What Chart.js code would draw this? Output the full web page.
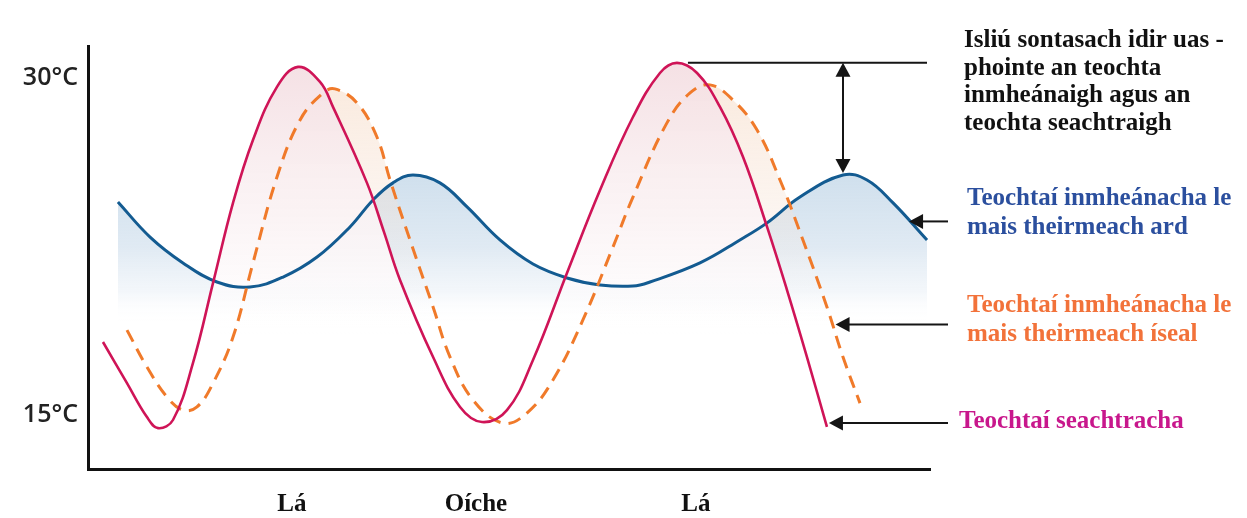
<!DOCTYPE html>
<html>
<head>
<meta charset="utf-8">
<script src="https://cdn.jsdelivr.net/npm/chart.js@4.4.0/dist/chart.umd.min.js"></script>
<style>
  html, body { margin: 0; padding: 0; background: #fff; }
  #wrap { position: relative; width: 1247px; height: 518px; }
</style>
</head>
<body>
<div id="wrap"><canvas id="tempChart"></canvas></div>
<script>
// Time of day in hours from the left end of the axis, temperature in °C

// Outside temperature (red)
const outsideHours = [0.96, 2.5, 3.78, 4.49, 5.45, 6.73, 8.02, 9.3, 10.58, 12.12, 13.47, 14.88, 15.71, 17.89, 18.98, 20.01, 22.13, 23.86, 25.27, 26.87, 28.54, 30.72, 32.84, 34.95, 36.68, 37.77, 39.06, 40.53, 42.01, 43.55, 44.83, 46.11, 47.39];
const outsideTemps = [18.25, 16.42, 14.91, 14.42, 14.78, 17.31, 20.88, 24.44, 27.24, 29.6, 30.49, 29.82, 28.71, 25.33, 23.15, 21.01, 17.58, 15.36, 14.69, 15.22, 17.45, 21.32, 25.01, 28.26, 30.22, 30.67, 30.22, 28.71, 26.48, 23.37, 20.56, 17.58, 14.47];

// Inside temperature, low thermal mass (orange, dashed)
const lowMassHours = [2.5, 3.78, 5.07, 6.09, 6.99, 8.02, 9.3, 10.58, 12.12, 13.6, 15.07, 15.84, 17.25, 18.53, 19.37, 20.65, 22.13, 23.22, 24.69, 26.61, 28.15, 29.82, 31.74, 33.67, 34.95, 37.13, 38.61, 39.89, 41.36, 42.9, 44.38, 45.85, 47.39, 48.42, 49.51];
const lowMassTemps = [18.78, 17.14, 15.8, 15.22, 15.36, 16.42, 18.47, 21.77, 25.59, 28.13, 29.33, 29.51, 28.89, 27.37, 25.46, 22.79, 19.81, 17.58, 15.67, 14.64, 15.09, 16.56, 19.23, 22.48, 24.7, 28.0, 29.33, 29.69, 29.02, 27.69, 25.46, 22.79, 19.81, 17.58, 15.53];

// Inside temperature, high thermal mass (blue)
const highMassHours = [1.92, 3.98, 6.09, 8.27, 10.39, 12.51, 14.69, 16.8, 18.28, 19.56, 20.84, 22.57, 24.31, 26.42, 28.54, 30.72, 32.84, 34.95, 36.04, 39.25, 41.81, 43.55, 45.66, 48.42, 49.96, 51.63, 53.81];
const highMassTemps = [24.48, 22.92, 21.77, 20.92, 20.7, 21.14, 22.03, 23.37, 24.57, 25.33, 25.68, 25.33, 24.26, 22.79, 21.72, 21.1, 20.79, 20.74, 20.92, 21.77, 22.79, 23.55, 24.7, 25.68, 25.46, 24.44, 22.79];

// Axis ticks
const yTickValues = [15, 30];
const xTickHours = [13.08, 24.88, 38.99];
const xTickLabels = ["Lá", "Oíche", "Lá"];

// Notes on the right
const gapNote = ["Isliú sontasach idir uas -", "phointe an teochta", "inmheánaigh agus an", "teochta seachtraigh"];
const highMassNote = ["Teochtaí inmheánacha le", "mais theirmeach ard"];
const lowMassNote = ["Teochtaí inmheánacha le", "mais theirmeach íseal"];
const outsideNote = ["Teochtaí seachtracha"];

const RED = "#cf1457";
const ORANGE = "#f07a2a";
const BLUE = "#135b91";
const SERIF = '"Liberation Serif", "Times New Roman", serif';

function toPoints(xs, ys) {
  return xs.map((x, i) => ({ x: x, y: ys[i] }));
}

// vertical gradient defined by temperatures
function makeGradient(stops) {
  return function (context) {
    const chart = context.chart;
    if (!chart.chartArea) return null;
    const yScale = chart.scales.y;
    const top = yScale.getPixelForValue(stops[0][0]);
    const bottom = yScale.getPixelForValue(stops[stops.length - 1][0]);
    const g = chart.ctx.createLinearGradient(0, top, 0, bottom);
    stops.forEach((s) => {
      g.addColorStop((yScale.getPixelForValue(s[0]) - top) / (bottom - top), s[1]);
    });
    return g;
  };
}

function arrowHead(ctx, tipX, tipY, dx, dy) {
  // dx, dy: unit direction the arrow points to
  const len = 14, half = 7.5;
  const bx = tipX - dx * len, by = tipY - dy * len;
  ctx.beginPath();
  ctx.moveTo(tipX, tipY);
  ctx.lineTo(bx - dy * half, by + dx * half);
  ctx.lineTo(bx + dy * half, by - dx * half);
  ctx.closePath();
  ctx.fill();
}

function pointerArrow(ctx, tailX, tipX, tipY) {
  ctx.beginPath();
  ctx.moveTo(tailX, tipY);
  ctx.lineTo(tipX + 12, tipY);
  ctx.stroke();
  arrowHead(ctx, tipX, tipY, -1, 0);
}

function drawLines(ctx, lines, x, y0, step, color) {
  ctx.fillStyle = color;
  lines.forEach((t, i) => ctx.fillText(t, x, y0 + i * step));
}

const notesPlugin = {
  id: "notes",
  afterDraw(chart) {
    const ctx = chart.ctx;
    const xs = chart.scales.x, ys = chart.scales.y;
    ctx.save();
    ctx.strokeStyle = "#151515";
    ctx.fillStyle = "#151515";
    ctx.lineWidth = 2;

    // level of the outside peak (second day)
    const peakTemp = Math.max(...outsideTemps);
    const peakIdx = outsideTemps.indexOf(peakTemp);
    const peakY = ys.getPixelForValue(peakTemp);
    const peakX = xs.getPixelForValue(outsideHours[peakIdx]);
    ctx.beginPath();
    ctx.moveTo(peakX + 11, peakY);
    ctx.lineTo(chart.chartArea.right - 3, peakY);
    ctx.stroke();

    // double arrow down to the high-mass peak
    let bi = highMassHours.length - 1;
    for (let i = highMassHours.length - 1; i >= 0; i--) {
      if (highMassHours[i] < 40) break;
      if (highMassTemps[i] > highMassTemps[bi]) bi = i;
    }
    const bx = xs.getPixelForValue(highMassHours[bi]);
    const by = ys.getPixelForValue(highMassTemps[bi]) - 2;
    ctx.beginPath();
    ctx.moveTo(bx, peakY + 12);
    ctx.lineTo(bx, by - 12);
    ctx.stroke();
    arrowHead(ctx, bx, peakY, 0, -1);
    arrowHead(ctx, bx, by, 0, 1);

    // pointers to the curve ends
    const tailX = 948;
    const hn = highMassHours.length;
    const hbX = (xs.getPixelForValue(highMassHours[hn - 2]) + xs.getPixelForValue(highMassHours[hn - 1])) / 2;
    const hbY = (ys.getPixelForValue(highMassTemps[hn - 2]) + ys.getPixelForValue(highMassTemps[hn - 1])) / 2;
    pointerArrow(ctx, tailX, hbX - 1, hbY);

    const ln = lowMassHours.length;
    const f = 0.35;
    const lx0 = xs.getPixelForValue(lowMassHours[ln - 3]), lx1 = xs.getPixelForValue(lowMassHours[ln - 2]);
    const ly0 = ys.getPixelForValue(lowMassTemps[ln - 3]), ly1 = ys.getPixelForValue(lowMassTemps[ln - 2]);
    pointerArrow(ctx, tailX, lx0 + (lx1 - lx0) * f + 3, ly0 + (ly1 - ly0) * f);

    const on = outsideHours.length;
    pointerArrow(ctx, tailX, xs.getPixelForValue(outsideHours[on - 1]) + 2, ys.getPixelForValue(outsideTemps[on - 1]) - 4);

    // text
    ctx.font = "bold 25px " + SERIF;
    ctx.textAlign = "left";
    ctx.textBaseline = "alphabetic";
    drawLines(ctx, gapNote, 964, 47, 27.5, "#111");
    drawLines(ctx, highMassNote, 967, 205, 29, "#2b4f9e");
    drawLines(ctx, lowMassNote, 967, 312, 29, "#f2723a");
    drawLines(ctx, outsideNote, 959, 428, 29, "#c8178c");
    ctx.restore();
  },
};

new Chart(document.getElementById("tempChart"), {
  type: "line",
  data: {
    datasets: [
      {
        label: "Teochtaí seachtracha",
        data: toPoints(outsideHours, outsideTemps),
        borderColor: RED,
        borderWidth: 2.6,
        pointRadius: 0,
        tension: 0.4,
        fill: { value: 12.6 },
        backgroundColor: makeGradient([
          [30.7, "rgba(244, 222, 226, 0.92)"],
          [26, "rgba(249, 238, 240, 0.92)"],
          [21, "rgba(253, 250, 251, 0.88)"],
          [18.6, "rgba(255, 255, 255, 0)"],
        ]),
      },
      {
        label: "Teochtaí inmheánacha le mais theirmeach íseal",
        data: toPoints(lowMassHours, lowMassTemps),
        borderColor: ORANGE,
        borderWidth: 3,
        borderDash: [13, 8],
        pointRadius: 0,
        tension: 0.4,
        fill: { value: 12.6 },
        backgroundColor: makeGradient([
          [29.7, "rgba(246, 218, 196, 0.55)"],
          [24, "rgba(246, 226, 212, 0.35)"],
          [19, "rgba(255, 255, 255, 0)"],
        ]),
      },
      {
        label: "Teochtaí inmheánacha le mais theirmeach ard",
        data: toPoints(highMassHours, highMassTemps),
        borderColor: BLUE,
        borderWidth: 3,
        pointRadius: 0,
        tension: 0.4,
        fill: { value: 12.6 },
        backgroundColor: makeGradient([
          [25.7, "rgba(205, 222, 236, 0.95)"],
          [22.5, "rgba(218, 230, 241, 0.85)"],
          [20.5, "rgba(235, 241, 247, 0.6)"],
          [19.1, "rgba(255, 255, 255, 0)"],
        ]),
      },
    ],
  },
  options: {
    responsive: true,
    maintainAspectRatio: false,
    animation: false,
    layout: { padding: { left: 0, top: 46, right: 317, bottom: 0 } },
    plugins: {
      legend: { display: false },
      tooltip: { enabled: false },
      filler: { drawTime: "beforeDatasetsDraw" },
    },
    scales: {
      x: {
        type: "linear",
        min: 0,
        max: 54,
        grid: { display: false, drawTicks: false },
        border: { display: true, color: "#111", width: 3 },
        afterFit: (scale) => { scale.height = 49; },
        afterBuildTicks: (axis) => { axis.ticks = xTickHours.map((v) => ({ value: v })); },
        ticks: {
          autoSkip: false,
          maxRotation: 0,
          padding: 21,
          color: "#111",
          font: { family: SERIF, size: 25, weight: "bold" },
          callback: (value, index) => xTickLabels[index],
        },
      },
      y: {
        type: "linear",
        min: 12.6,
        max: 31.42,
        grid: { display: false, drawTicks: false },
        border: { display: true, color: "#111", width: 3 },
        afterFit: (scale) => { scale.width = 88; },
        afterBuildTicks: (axis) => { axis.ticks = yTickValues.map((v) => ({ value: v })); },
        ticks: {
          padding: 10,
          color: "#222",
          font: { family: '"Open Sans", sans-serif', size: 25, weight: "600" },
          callback: (value) => value + "°C",
        },
      },
    },
  },
  plugins: [notesPlugin],
});
</script>
</body>
</html>
